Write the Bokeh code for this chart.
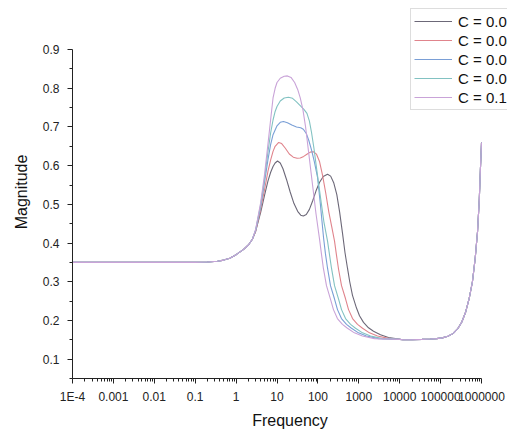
from bokeh.plotting import figure
from bokeh.models import Range1d, FixedTicker, Legend, LegendItem, ColumnDataSource
from bokeh.embed import file_html
from bokeh.resources import INLINE

# ---- data ----
labels = ["C = 0.02", "C = 0.04", "C = 0.06", "C = 0.08", "C = 0.1"]
colors = ["#6c6878", "#e0848c", "#7a9fd6", "#82c2c2", "#c9a3d8"]

# shared low-frequency plateau and rise
freq_low = [1e-4, 1e-3, 1e-2, 0.1, 0.2, 0.35, 0.5, 0.7, 1.0, 1.5, 2.0, 2.5]
mag_low = [0.35, 0.35, 0.35, 0.35, 0.351, 0.353, 0.356, 0.361, 0.37, 0.383, 0.395, 0.41]

# shared high-frequency floor and rise
freq_high = [1.2e4, 2e4, 3.5e4, 5.6e4, 8e4, 1.1e5, 1.5e5, 2e5, 2.6e5, 3.3e5, 4.1e5,
             5e5, 6e5, 7e5, 8e5, 8.8e5, 9.4e5, 1e6]
mag_high = [0.15, 0.15, 0.151, 0.152, 0.153, 0.155, 0.159, 0.166, 0.178, 0.196, 0.222,
            0.257, 0.30, 0.36, 0.43, 0.51, 0.59, 0.66]

freq_c1 = [3, 4, 5, 6, 7, 8, 9, 10.3, 12, 14, 17, 21, 26, 32, 38, 44, 52, 62, 75, 90,
           110, 135, 172, 205, 245, 290, 340, 400, 460, 529, 600, 701, 878, 1040, 1303,
           1727, 2289, 3387, 5321, 10450]
mag_c1 = [0.43, 0.48, 0.525, 0.56, 0.583, 0.598, 0.607, 0.612, 0.607, 0.592, 0.565, 0.532,
          0.502, 0.482, 0.472, 0.47, 0.474, 0.487, 0.51, 0.535, 0.557, 0.572, 0.578, 0.573,
          0.555, 0.525, 0.48, 0.425, 0.375, 0.335, 0.30, 0.265, 0.232, 0.212, 0.195,
          0.181, 0.172, 0.163, 0.156, 0.151]

freq_c2 = [3, 4, 5, 6, 7, 8, 9, 11, 13, 16, 20, 25, 31, 37, 45, 55, 65, 78, 92, 110,
           130, 155, 185, 220, 255, 285, 319, 378, 474, 561, 703, 931, 1234, 1826, 2869,
           5636, 1e4]
mag_c2 = [0.43, 0.488, 0.54, 0.585, 0.615, 0.637, 0.65, 0.66, 0.657, 0.645, 0.63, 0.622,
          0.619, 0.62, 0.624, 0.63, 0.635, 0.636, 0.63, 0.61, 0.575, 0.53, 0.48, 0.44,
          0.405, 0.368, 0.333, 0.29, 0.256, 0.228, 0.205, 0.19, 0.18, 0.168, 0.16, 0.153,
          0.151]

freq_c3 = [3, 4, 5, 6, 7, 8, 10, 12, 14.4, 18, 23, 30, 38, 44, 52, 60, 70, 82, 98,
           115, 137, 153, 172, 203, 254, 301, 377, 500, 663, 981, 1541, 3028, 1e4]
mag_c3 = [0.432, 0.495, 0.56, 0.615, 0.655, 0.68, 0.703, 0.712, 0.714, 0.711, 0.705,
          0.70, 0.698, 0.694, 0.683, 0.665, 0.64, 0.61, 0.57, 0.5, 0.415, 0.372, 0.335,
          0.29, 0.256, 0.228, 0.205, 0.19, 0.18, 0.168, 0.16, 0.153, 0.151]

freq_c4 = [3, 4, 5, 6, 7, 8, 9, 10, 12, 15, 19, 24, 30, 38, 46, 54, 62, 70, 80, 95,
           115, 140, 172, 192, 215, 255, 319, 378, 474, 628, 832, 1232, 1935, 3801, 1e4]
mag_c4 = [0.434, 0.50, 0.57, 0.635, 0.685, 0.718, 0.74, 0.753, 0.767, 0.775, 0.777,
          0.774, 0.765, 0.754, 0.745, 0.735, 0.715, 0.685, 0.645, 0.585, 0.52, 0.455,
          0.405, 0.37, 0.335, 0.29, 0.256, 0.228, 0.205, 0.19, 0.18, 0.168, 0.16, 0.153,
          0.151]

freq_c5 = [3, 4, 5, 6, 7, 8, 9, 10, 12, 15, 18, 22, 27, 32, 37, 43, 50, 60, 74, 90,
           109, 122, 136, 162, 202, 240, 300, 398, 528, 780, 1226, 2409, 1e4]
mag_c5 = [0.435, 0.505, 0.58, 0.655, 0.72, 0.775, 0.80, 0.815, 0.826, 0.831, 0.832,
          0.828, 0.815, 0.797, 0.775, 0.745, 0.70, 0.63, 0.55, 0.475, 0.412, 0.372, 0.335,
          0.29, 0.256, 0.228, 0.205, 0.19, 0.18, 0.168, 0.16, 0.153, 0.151]

series_f = [freq_c1, freq_c2, freq_c3, freq_c4, freq_c5]
series_m = [mag_c1, mag_c2, mag_c3, mag_c4, mag_c5]

x_ticks = [1e-4, 1e-3, 1e-2, 0.1, 1, 10, 100, 1000, 1e4, 1e5, 1e6]
x_tick_labels = ["1E-4", "0.001", "0.01", "0.1", "1", "10", "100", "1000",
                 "10000", "100000", "1000000"]
y_ticks = [0.1, 0.2, 0.3, 0.4, 0.5, 0.6, 0.7, 0.8, 0.9]

# ---- figure ----
# the frame reaches the right and top edges so that the legend can overhang
# the axes as in the reference; axis lines are limited with `bounds`.
FONT = "Liberation Sans"
p = figure(width=507, height=431, x_axis_type="log", output_backend="svg",
           toolbar_location=None,
           x_range=Range1d(1e-4, 4.32e6), y_range=Range1d(0.05, 1.0139),
           min_border_left=72, min_border_right=0, min_border_top=5,
           min_border_bottom=51)
p.outline_line_color = None
p.background_fill_color = "white"
p.border_fill_color = "white"
p.xgrid.visible = False
p.ygrid.visible = False

minor_x = []
for d in range(-4, 6):
    for k in range(2, 10):
        minor_x.append(k * 10.0 ** d)
p.xaxis.ticker = FixedTicker(ticks=x_ticks, minor_ticks=minor_x)
p.xaxis.major_label_overrides = {t: s for t, s in zip(x_ticks, x_tick_labels)}
p.xaxis.bounds = (x_ticks[0], x_ticks[-1])
p.yaxis.ticker = FixedTicker(ticks=y_ticks,
                             minor_ticks=[0.05 + 0.1 * i for i in range(9)])
p.yaxis.bounds = (0.05, y_ticks[-1])

for ax in (p.xaxis[0], p.yaxis[0]):
    ax.axis_line_color = "#222222"
    ax.major_tick_line_color = "#222222"
    ax.minor_tick_line_color = "#222222"
    ax.major_tick_out = 5
    ax.major_tick_in = 0
    ax.minor_tick_out = 3
    ax.minor_tick_in = 0
    ax.major_label_text_font = FONT
    ax.major_label_text_font_size = "12px"
    ax.major_label_text_color = "#222222"
    ax.axis_label_text_font = FONT
    ax.axis_label_text_font_size = "16px"
    ax.axis_label_text_font_style = "normal"
    ax.axis_label_text_color = "#111111"

p.xaxis.axis_label = "Frequency"
p.yaxis.axis_label = "Magnitude"
p.xaxis.major_label_standoff = 6
p.xaxis.axis_label_standoff = 5
p.yaxis.major_label_standoff = 8
p.yaxis.axis_label_standoff = 10

items = []
for lab, col, fr, mg in zip(labels, colors, series_f, series_m):
    xs = freq_low + fr + freq_high
    ys = mag_low + mg + mag_high
    src = ColumnDataSource(dict(x=xs, y=ys))
    r = p.line("x", "y", source=src, line_color=col, line_width=1.1)
    items.append(LegendItem(label=lab, renderers=[r]))

legend = Legend(items=items, location=(338, 268))
legend.border_line_color = "#bbbbbb"
legend.border_line_width = 1
legend.background_fill_color = "white"
legend.background_fill_alpha = 1
legend.padding = 3
legend.spacing = 1
legend.margin = 0
legend.glyph_width = 38
legend.glyph_height = 18
legend.label_height = 18
legend.label_standoff = 6
legend.label_text_font = FONT
legend.label_text_font_size = "15px"
legend.label_text_color = "#111111"
p.add_layout(legend)

open("out.html", "w").write(file_html(p, INLINE))
